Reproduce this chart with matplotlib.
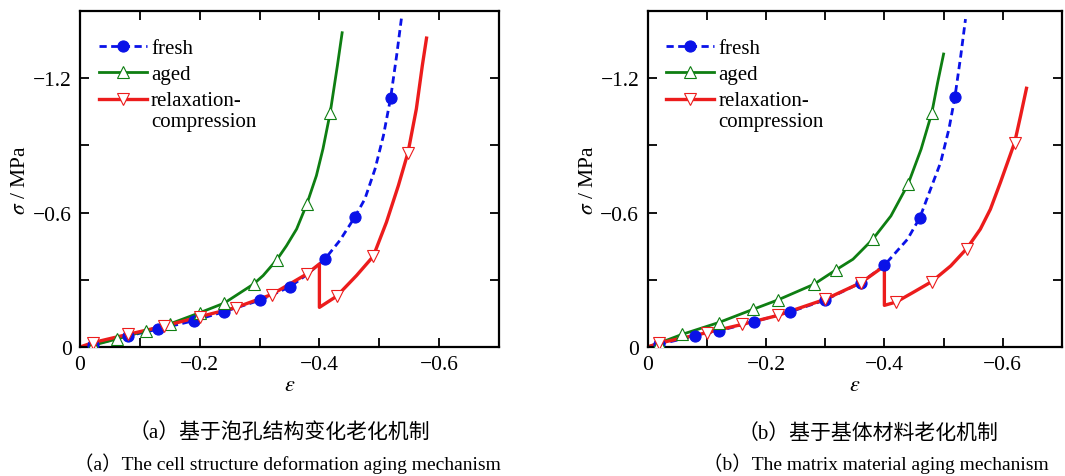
import numpy as np
import matplotlib
matplotlib.use('Agg')
import matplotlib.pyplot as plt
from matplotlib.lines import Line2D
from matplotlib.ticker import MultipleLocator, FuncFormatter

plt.rcParams['font.family'] = ['Liberation Serif', 'Noto Sans CJK SC']
plt.rcParams['mathtext.fontset'] = 'stix'

# magnitudes of compressive strain / stress (plotted as negatives)
# (a) cell structure deformation aging
fresh_a_eps = [0, 0.022, 0.081, 0.131, 0.191, 0.241, 0.301, 0.351, 0.380, 0.409, 0.434, 0.459, 0.476, 0.493, 0.507, 0.519, 0.529, 0.537]
fresh_a_sig = [0, 0.011, 0.050, 0.080, 0.118, 0.158, 0.209, 0.269, 0.325, 0.392, 0.475, 0.579, 0.661, 0.795, 0.944, 1.112, 1.300, 1.466]
fresh_a_mk = [1, 2, 3, 4, 5, 6, 7, 9, 11, 15]

aged_a_eps = [0, 0.022, 0.062, 0.111, 0.151, 0.201, 0.241, 0.290, 0.306, 0.329, 0.345, 0.362, 0.379, 0.395, 0.406, 0.418, 0.430, 0.438]
aged_a_sig = [0, 0.008, 0.036, 0.073, 0.104, 0.154, 0.196, 0.281, 0.319, 0.390, 0.452, 0.527, 0.638, 0.765, 0.885, 1.045, 1.255, 1.403]
aged_a_mk = [1, 2, 3, 4, 5, 6, 7, 9, 12, 15]

relax_a_eps = [0, 0.022, 0.081, 0.140, 0.201, 0.260, 0.320, 0.379, 0.400, 0.400, 0.429, 0.462, 0.490, 0.512, 0.532, 0.548, 0.562, 0.572, 0.579]
relax_a_sig = [0, 0.020, 0.057, 0.093, 0.136, 0.176, 0.234, 0.326, 0.371, 0.177, 0.227, 0.319, 0.405, 0.557, 0.721, 0.868, 1.063, 1.257, 1.379]
relax_a_mk = [1, 2, 3, 4, 5, 6, 7, 10, 12, 15]

# (b) matrix material aging
fresh_b_eps = [0, 0.019, 0.080, 0.120, 0.180, 0.240, 0.300, 0.361, 0.400, 0.439, 0.460, 0.478, 0.495, 0.509, 0.519, 0.529, 0.537]
fresh_b_sig = [0, 0.012, 0.049, 0.072, 0.113, 0.156, 0.210, 0.288, 0.365, 0.481, 0.578, 0.705, 0.824, 0.973, 1.114, 1.300, 1.464]
fresh_b_mk = [1, 2, 3, 4, 5, 6, 7, 8, 10, 14]

aged_b_eps = [0, 0.019, 0.059, 0.120, 0.178, 0.220, 0.281, 0.318, 0.347, 0.380, 0.411, 0.440, 0.462, 0.480, 0.490, 0.500]
aged_b_sig = [0, 0.017, 0.057, 0.109, 0.168, 0.210, 0.280, 0.344, 0.392, 0.480, 0.585, 0.727, 0.883, 1.044, 1.181, 1.308]
aged_b_mk = [1, 2, 3, 4, 5, 6, 7, 9, 11, 13]

relax_b_eps = [0, 0.019, 0.100, 0.160, 0.220, 0.300, 0.361, 0.400, 0.400, 0.420, 0.448, 0.480, 0.512, 0.539, 0.562, 0.579, 0.596, 0.608, 0.620, 0.630, 0.640]
relax_b_sig = [0, 0.017, 0.064, 0.101, 0.141, 0.213, 0.288, 0.362, 0.186, 0.201, 0.243, 0.292, 0.362, 0.439, 0.526, 0.615, 0.735, 0.824, 0.913, 1.032, 1.155]
relax_b_mk = [1, 2, 3, 4, 5, 6, 9, 11, 13, 18]

labels = ['fresh', 'aged', 'relaxation-\ncompression']
captions_cn = ['（a）基于泡孔结构变化老化机制', '（b）基于基体材料老化机制']
captions_en = ['（a）The cell structure deformation aging mechanism', '（b）The matrix material aging mechanism']

BLUE = '#0a12e8'
GREEN = '#0e7e12'
RED = '#ec1c1c'

styles = [
    dict(color=BLUE, ls=(0, (2.6, 1.6)), lw=2.0, marker='o', ms=8, mfc=BLUE, mec=BLUE, mew=0.8),
    dict(color=GREEN, ls='-', lw=2.0, marker='^', ms=9, mfc='white', mec=GREEN, mew=0.8),
    dict(color=RED, ls='-', lw=2.4, marker='v', ms=9, mfc='white', mec=RED, mew=0.8),
]


def fmt(v, pos):
    if abs(v) < 1e-9:
        return '0'
    return '{:.1f}'.format(v).replace('-', '\u2212')


def panel(ax, series):
    # lines first, then markers on top (as in the original)
    for (x, y, mk), st in zip(series, styles):
        ax.plot(-np.array(x), -np.array(y), color=st['color'], ls=st['ls'], lw=st['lw'], zorder=2)
    for (x, y, mk), st in zip(series, styles):
        ax.plot(-np.array(x), -np.array(y), ls='none', marker=st['marker'], ms=st['ms'],
                mfc=st['mfc'], mec=st['mec'], mew=st['mew'], markevery=mk, zorder=3)
    ax.set_xlim(0, -0.7)
    ax.set_ylim(0, -1.5)
    ax.xaxis.set_major_locator(MultipleLocator(0.2))
    ax.xaxis.set_minor_locator(MultipleLocator(0.1))
    ax.yaxis.set_major_locator(MultipleLocator(0.6))
    ax.yaxis.set_minor_locator(MultipleLocator(0.3))
    ax.xaxis.set_major_formatter(FuncFormatter(fmt))
    ax.yaxis.set_major_formatter(FuncFormatter(fmt))
    ax.tick_params(which='both', direction='in', top=True, right=True, length=6.5, width=1.3,
                   labelsize=15.5, pad=6)
    for s in ax.spines.values():
        s.set_linewidth(1.6)
    ax.set_xlabel(r'$\varepsilon$', fontsize=16, labelpad=1)
    ax.set_ylabel(r'$\sigma$ / MPa', fontsize=15.5, labelpad=2)
    handles = [Line2D([], [], color=st['color'], ls=st['ls'], lw=st['lw'], marker=st['marker'],
                      ms=st['ms'], mfc=st['mfc'], mec=st['mec'], mew=st['mew']) for st in styles]
    leg = ax.legend(handles, labels, loc='upper left', bbox_to_anchor=(0.045, 0.917), frameon=False,
                    fontsize=15, handlelength=2.3, handletextpad=0.2, labelspacing=0.3,
                    borderpad=0, borderaxespad=0)
    # put the last handle level with the first line of its two-line label
    ln = leg.get_lines()[2]
    ln.set_ydata(np.asarray(ln.get_ydata()) + 8.5)


fig = plt.figure(figsize=(10.65, 4.77), dpi=100)
ax1 = fig.add_axes([0.0751, 0.2704, 0.3934, 0.7044])
ax2 = fig.add_axes([0.6080, 0.2704, 0.3892, 0.7044])

panel(ax1, [(fresh_a_eps, fresh_a_sig, fresh_a_mk), (aged_a_eps, aged_a_sig, aged_a_mk),
            (relax_a_eps, relax_a_sig, relax_a_mk)])
panel(ax2, [(fresh_b_eps, fresh_b_sig, fresh_b_mk), (aged_b_eps, aged_b_sig, aged_b_mk),
            (relax_b_eps, relax_b_sig, relax_b_mk)])

for cx, cn, en in zip([279 / 1065, 868 / 1065], captions_cn, captions_en):
    fig.text(cx, 1 - 434 / 477, cn, ha='center', va='center', fontsize=15)
    fig.text(cx + 8 / 1065, 1 - 464 / 477, en, ha='center', va='center', fontsize=14)

fig.savefig('out.png', dpi=100)
